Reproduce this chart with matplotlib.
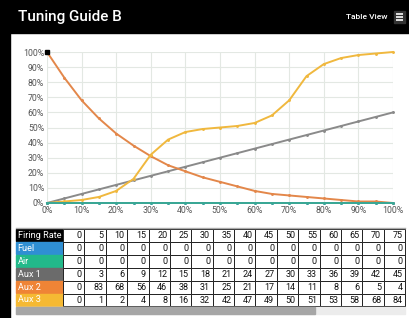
import matplotlib.pyplot as plt
from matplotlib.patches import Rectangle

plt.rcParams['font.family'] = ['Roboto', 'DejaVu Sans']

# chart series (0..100 % firing rate, step 5)
rate = [0, 5, 10, 15, 20, 25, 30, 35, 40, 45, 50, 55, 60, 65, 70, 75, 80, 85, 90, 95, 100]
fuel = [0] * 21
air = [0] * 21
aux1 = [0, 3, 6, 9, 12, 15, 18, 21, 24, 27, 30, 33, 36, 39, 42, 45, 48, 51, 54, 57, 60]
aux2 = [100, 83, 68, 56, 46, 38, 31, 25, 21, 17, 14, 11, 8, 6, 5, 4, 3, 2, 1, 1, 0]
aux3 = [0, 1, 2, 4, 8, 16, 32, 42, 47, 49, 50, 51, 53, 58, 68, 84, 92, 96, 98, 99, 100]

# table as shown on screen (first 16 columns)
row_names = ['Firing Rate', 'Fuel', 'Air', 'Aux 1', 'Aux 2', 'Aux 3']
tbl_rate = [0, 5, 10, 15, 20, 25, 30, 35, 40, 45, 50, 55, 60, 65, 70, 75]
tbl_fuel = [0] * 16
tbl_air = [0] * 16
tbl_aux1 = [0, 3, 6, 9, 12, 15, 18, 21, 24, 27, 30, 33, 36, 39, 42, 45]
tbl_aux2 = [0, 83, 68, 56, 46, 38, 31, 25, 21, 17, 14, 11, 8, 6, 5, 4]
tbl_aux3 = [0, 1, 2, 4, 8, 16, 32, 42, 47, 49, 50, 51, 53, 58, 68, 84]
tbl_rows = [tbl_rate, tbl_fuel, tbl_air, tbl_aux1, tbl_aux2, tbl_aux3]

row_colors = ['#000000', '#2f8fd3', '#22b98a', '#6b6b6b', '#ef8436', '#f5b933']

W, H = 409, 318
fig = plt.figure(figsize=(W / 100, H / 100), dpi=100)
fig.patch.set_facecolor('white')

# pixel overlay for frame, header and table
bg = fig.add_axes([0, 0, 1, 1])
bg.set_xlim(0, W)
bg.set_ylim(H, 0)
bg.axis('off')
bg.add_patch(Rectangle((0, 0), W, 33, color='black'))
bg.add_patch(Rectangle((0, 0), 10, H, color='black'))
bg.text(18, 17, 'Tuning Guide B', color='white', fontsize=11, va='center', ha='left',
        fontweight='medium')
bg.text(388, 17, 'Table View', color='white', fontsize=6, va='center', ha='right',
        fontweight='medium')
bg.add_patch(Rectangle((394, 11), 11, 12, color='#333333'))
for k in range(3):
    bg.plot([396, 403], [14 + k * 3, 14 + k * 3], color='white', lw=1.2,
            solid_capstyle='butt')

# table
tx0, lab_w, cell_w = 16, 47, 21.375
ty0, row_h = 229, 12.9
bg.plot([tx0, 405], [ty0 - 1, ty0 - 1], color='#aaaaaa', lw=1)
for r, (name, vals) in enumerate(zip(row_names, tbl_rows)):
    y = ty0 + r * row_h
    bg.add_patch(Rectangle((tx0, y), lab_w, row_h - 0.8, color=row_colors[r]))
    bg.text(tx0 + 1.5, y + row_h / 2, name, color='white', fontsize=6.6,
            va='center', ha='left')
    for c, v in enumerate(vals):
        x = tx0 + lab_w + c * cell_w
        bg.add_patch(Rectangle((x, y), cell_w, row_h, facecolor='white',
                               edgecolor='#222222', lw=0.7))
        bg.text(x + cell_w - 2.5, y + row_h / 2 + 0.3, str(v), color='#111111',
                fontsize=6.5, va='center', ha='right')
sb_y = ty0 + 6 * row_h + 0.5
bg.add_patch(Rectangle((tx0, sb_y), 405 - tx0, 7, color='#ececec'))
bg.add_patch(Rectangle((tx0, sb_y), 315 - tx0, 7, color='#a6a6a6'))

# chart
ax = fig.add_axes([47 / W, (H - 203) / H, (393 - 47) / W, (203 - 52) / H])
ax.set_facecolor('none')
ax.set_xlim(0, 100)
ax.set_ylim(0, 100)
ticks = list(range(0, 101, 10))
ax.set_xticks(ticks)
ax.set_yticks(ticks)
ax.set_xticklabels([f'{t}%' for t in ticks])
ax.set_yticklabels([f'{t}%' for t in ticks])
ax.tick_params(length=0, labelsize=6.3, colors='#555555', pad=2)
ax.grid(color='#e3e8e3', lw=0.8)
for s in ax.spines.values():
    s.set_visible(False)

kw = dict(lw=1.4, marker='o', ms=1.1, clip_on=False)
ax.plot(rate, aux1, color='#8a8a8a', **kw)
ax.plot(rate, aux2, color='#e3874a', **kw)
ax.plot(rate, aux3, color='#f0b83e', **kw)
ax.plot(rate, fuel, color='#3f8fd0', **kw)
ax.plot(rate, air, color='#3aa894', **kw)
ax.plot(rate[0], aux2[0], marker='s', ms=2.5, color='black', clip_on=False)

fig.savefig('out.png', dpi=100)
